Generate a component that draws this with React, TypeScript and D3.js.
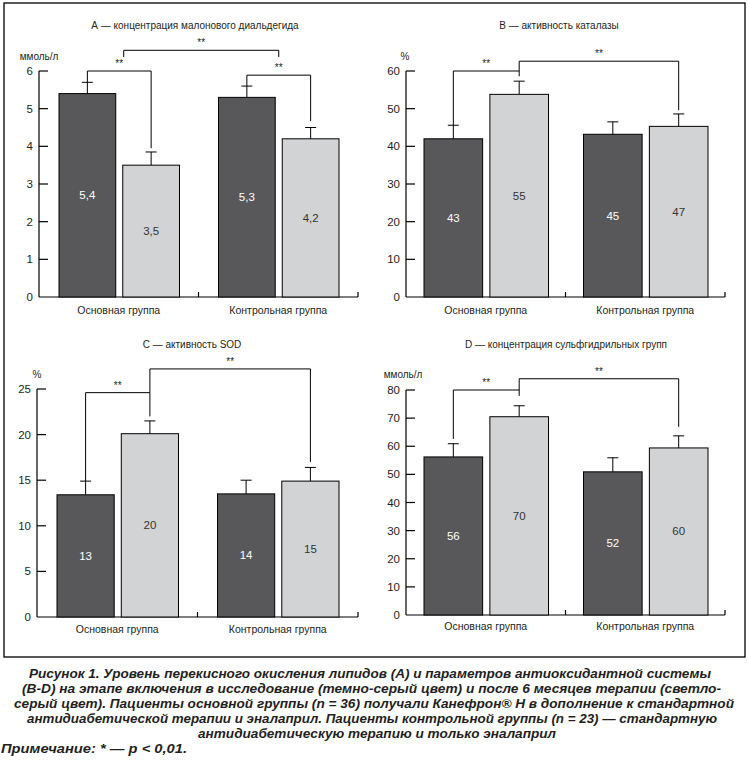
import { useEffect } from 'react'
import * as d3 from 'd3'

const GROUPS = ['Основная группа', 'Контрольная группа']
const SERIES = ['before', 'after']

// A — малоновый диальдегид
const A_BEFORE = [5.4, 5.3]
const A_AFTER = [3.5, 4.2]
const A_BEFORE_ERR = [5.7, 5.6]
const A_AFTER_ERR = [3.85, 4.5]
const A_BEFORE_LBL = ['5,4', '5,3']
const A_AFTER_LBL = ['3,5', '4,2']
const A_TICKS = [0, 1, 2, 3, 4, 5, 6]

// B — каталаза
const B_BEFORE = [42, 43.2]
const B_AFTER = [53.8, 45.3]
const B_BEFORE_ERR = [45.6, 46.5]
const B_AFTER_ERR = [57.3, 48.6]
const B_BEFORE_LBL = ['43', '45']
const B_AFTER_LBL = ['55', '47']
const B_TICKS = [0, 10, 20, 30, 40, 50, 60]

// C — SOD
const C_BEFORE = [13.4, 13.5]
const C_AFTER = [20.1, 14.9]
const C_BEFORE_ERR = [14.9, 15.0]
const C_AFTER_ERR = [21.5, 16.4]
const C_BEFORE_LBL = ['13', '14']
const C_AFTER_LBL = ['20', '15']
const C_TICKS = [0, 5, 10, 15, 20, 25]

// D — сульфгидрильные группы
const D_BEFORE = [56.2, 50.9]
const D_AFTER = [70.5, 59.4]
const D_BEFORE_ERR = [60.9, 55.9]
const D_AFTER_ERR = [74.4, 63.7]
const D_BEFORE_LBL = ['56', '52']
const D_AFTER_LBL = ['70', '60']
const D_TICKS = [0, 10, 20, 30, 40, 50, 60, 70, 80]

// brackets: [fromGroup, fromSeries, toGroup, toSeries, level, leftEnd, rightEnd]
// a fractional series index points between the two bars of a group
const A_BRACKETS = [
  [0, 0, 0, 1, 6.0, 5.7, 3.95],
  [0, 0.57, 1, 0.5, 6.55, 6.37, 6.37],
  [1, 0, 1, 1, 5.89, 5.6, 4.67],
]
const B_BRACKETS = [
  [0, 0, 0, 1, 60, 45.6, 58.6],
  [0, 1, 1, 1, 62.6, 60, 49.6],
]
const C_BRACKETS = [
  [0, 0, 0, 1, 24.6, 14.9, 22.0],
  [0, 1, 1, 1, 27.2, 24.6, 17.0],
]
const D_BRACKETS = [
  [0, 0, 0, 1, 80, 62.6, 77.9],
  [0, 1, 1, 1, 84, 80, 66.9],
]

const CAPTION = [
  'Рисунок 1. Уровень перекисного окисления липидов (А) и параметров антиоксидантной системы',
  '(B-D) на этапе включения в исследование (темно-серый цвет) и после 6 месяцев терапии (светло-',
  'серый цвет). Пациенты основной группы (n = 36) получали Канефрон® Н в дополнение к стандартной',
  'антидиабетической терапии и эналаприл. Пациенты контрольной группы (n = 23) — стандартную',
  'антидиабетическую терапию и только эналаприл',
]
const NOTE = 'Примечание: * — p < 0,01.'

const FONT = '"Liberation Sans Narrow", "Liberation Sans", Arial, sans-serif'
const DARK = '#58585a'
const LIGHT = '#d2d3d5'
const INK = '#231f20'

type PanelProps = {
  title: string
  unit: string
  x0: number
  x1: number
  yTop: number
  y0: number
  max: number
  ticks: number[]
  before: number[]
  after: number[]
  beforeErr: number[]
  afterErr: number[]
  beforeLbl: string[]
  afterLbl: string[]
  brackets: number[][]
  titleX: number
  titleY: number
  unitX: number
  unitY: number
  labelY: number
  inset: number
}

function Panel(p: PanelProps) {
  const y = d3.scaleLinear().domain([0, p.max]).range([p.y0, p.yTop])
  const gx = d3.scaleBand().domain(GROUPS).range([p.x0, p.x1])
  const bw = gx.bandwidth()
  const sx = d3
    .scaleBand()
    .domain(SERIES)
    .range([p.inset, bw - p.inset + 1])
    .paddingInner(0.11)
  const vals = [p.before, p.after]
  const errs = [p.beforeErr, p.afterErr]
  const lbls = [p.beforeLbl, p.afterLbl]
  const center = (g: number, s: number) =>
    (gx(GROUPS[g]) ?? 0) + (sx(SERIES[s]) ?? 0) + sx.bandwidth() / 2
  const cx = (g: number, s: number) => {
    const lo = Math.floor(s)
    if (lo === s) return center(g, s)
    return d3.interpolateNumber(center(g, lo), center(g, lo + 1))(s - lo)
  }
  const capW = 5.5

  return (
    <g fontFamily={FONT} fill={INK}>
      <text x={p.titleX} y={p.titleY} fontSize={10} textAnchor="middle">{p.title}</text>
      <text x={p.unitX} y={p.unitY} fontSize={10} textAnchor="middle">{p.unit}</text>

      {/* axes */}
      <line x1={p.x0} x2={p.x0} y1={y(p.max)} y2={p.y0} stroke="#000" strokeWidth={1.2} />
      <line x1={p.x0} x2={p.x1} y1={p.y0} y2={p.y0} stroke="#000" strokeWidth={1.2} />
      {p.ticks.map((t) => (
        <g key={t}>
          {t > 0 && <line x1={p.x0} x2={p.x0 + 9} y1={y(t)} y2={y(t)} stroke="#000" strokeWidth={1.2} />}
          <text x={p.x0 - 6} y={y(t) + 4} fontSize={11.5} textAnchor="end">{t}</text>
        </g>
      ))}
      {GROUPS.map((g) => (
        <g key={g}>
          <line
            x1={(gx(g) ?? 0) + bw}
            x2={(gx(g) ?? 0) + bw}
            y1={p.y0}
            y2={p.y0 - 5}
            stroke="#000"
            strokeWidth={1.2}
          />
          <text x={(gx(g) ?? 0) + bw / 2} y={p.labelY} fontSize={10.5} textAnchor="middle">{g}</text>
        </g>
      ))}

      {/* bars */}
      {GROUPS.map((g, gi) =>
        SERIES.map((s, si) => {
          const v = vals[si][gi]
          const x = (gx(g) ?? 0) + (sx(s) ?? 0)
          const c = cx(gi, si)
          const e = errs[si][gi]
          return (
            <g key={g + s}>
              <line x1={c} x2={c} y1={y(v)} y2={y(e)} stroke="#000" strokeWidth={1} />
              <line x1={c - capW} x2={c + capW} y1={y(e)} y2={y(e)} stroke="#000" strokeWidth={1} />
              <rect
                x={x}
                y={y(v)}
                width={sx.bandwidth()}
                height={p.y0 - y(v)}
                fill={si === 0 ? DARK : LIGHT}
                stroke="#000"
                strokeWidth={1}
              />
              <text
                x={c}
                y={(y(v) + p.y0) / 2 + 4}
                fontSize={11.5}
                textAnchor="middle"
                fill={si === 0 ? '#fff' : '#333'}
              >
                {lbls[si][gi]}
              </text>
            </g>
          )
        }),
      )}

      {/* significance brackets */}
      {p.brackets.map((b, i) => {
        const xa = cx(b[0], b[1])
        const xb = cx(b[2], b[3])
        const path = d3.path()
        path.moveTo(xa, y(b[5]))
        path.lineTo(xa, y(b[4]))
        path.lineTo(xb, y(b[4]))
        path.lineTo(xb, y(b[6]))
        return (
          <g key={i}>
            <path d={path.toString()} fill="none" stroke="#000" strokeWidth={1} />
            <text x={(xa + xb) / 2} y={y(b[4]) - 4} fontSize={10} textAnchor="middle">**</text>
          </g>
        )
      })}
    </g>
  )
}

export default function App() {
  useEffect(() => {
    document.body.style.margin = '0'
  }, [])

  const captionWidths = [682, 699, 720, 690, 358]
  const captionCenters = [370, 371.5, 374, 372, 377]
  const captionY = d3.range(CAPTION.length).map((i) => 678 + i * 15)

  return (
    <svg width={748} height={761} style={{ display: 'block', background: '#fff' }}>
      <rect x={4} y={3} width={741} height={654} fill="none" stroke="#000" strokeWidth={1.3} />

      <Panel
        title="А — концентрация малонового диальдегида"
        unit="ммоль/л"
        x0={39}
        x1={358}
        yTop={71}
        y0={297}
        max={6}
        ticks={A_TICKS}
        before={A_BEFORE}
        after={A_AFTER}
        beforeErr={A_BEFORE_ERR}
        afterErr={A_AFTER_ERR}
        beforeLbl={A_BEFORE_LBL}
        afterLbl={A_AFTER_LBL}
        brackets={A_BRACKETS}
        titleX={195}
        titleY={29}
        unitX={39}
        unitY={60}
        labelY={314}
        inset={20}
      />
      <Panel
        title="В — активность каталазы"
        unit="%"
        x0={406}
        x1={725}
        yTop={71}
        y0={297}
        max={60}
        ticks={B_TICKS}
        before={B_BEFORE}
        after={B_AFTER}
        beforeErr={B_BEFORE_ERR}
        afterErr={B_AFTER_ERR}
        beforeLbl={B_BEFORE_LBL}
        afterLbl={B_AFTER_LBL}
        brackets={B_BRACKETS}
        titleX={559}
        titleY={29}
        unitX={405}
        unitY={60}
        labelY={314}
        inset={18}
      />
      <Panel
        title="С — активность SOD"
        unit="%"
        x0={37}
        x1={358}
        yTop={389}
        y0={617}
        max={25}
        ticks={C_TICKS}
        before={C_BEFORE}
        after={C_AFTER}
        beforeErr={C_BEFORE_ERR}
        afterErr={C_AFTER_ERR}
        beforeLbl={C_BEFORE_LBL}
        afterLbl={C_AFTER_LBL}
        brackets={C_BRACKETS}
        titleX={192}
        titleY={348}
        unitX={37}
        unitY={378}
        labelY={633}
        inset={20}
      />
      <Panel
        title="D — концентрация сульфгидрильных групп"
        unit="ммоль/л"
        x0={406}
        x1={725}
        yTop={390}
        y0={615}
        max={80}
        ticks={D_TICKS}
        before={D_BEFORE}
        after={D_AFTER}
        beforeErr={D_BEFORE_ERR}
        afterErr={D_AFTER_ERR}
        beforeLbl={D_BEFORE_LBL}
        afterLbl={D_AFTER_LBL}
        brackets={D_BRACKETS}
        titleX={566}
        titleY={348}
        unitX={403}
        unitY={378}
        labelY={630}
        inset={18}
      />

      <g
        fontFamily='"Liberation Sans", Arial, sans-serif'
        fontWeight="bold"
        fontStyle="italic"
        fontSize={13}
        fill={INK}
      >
        {CAPTION.map((line, i) => (
          <text
            key={i}
            x={captionCenters[i]}
            y={captionY[i]}
            textAnchor="middle"
            textLength={captionWidths[i]}
            lengthAdjust="spacingAndGlyphs"
          >
            {line}
          </text>
        ))}
        <text x={1} y={753} textLength={186} lengthAdjust="spacingAndGlyphs">{NOTE}</text>
      </g>
    </svg>
  )
}
